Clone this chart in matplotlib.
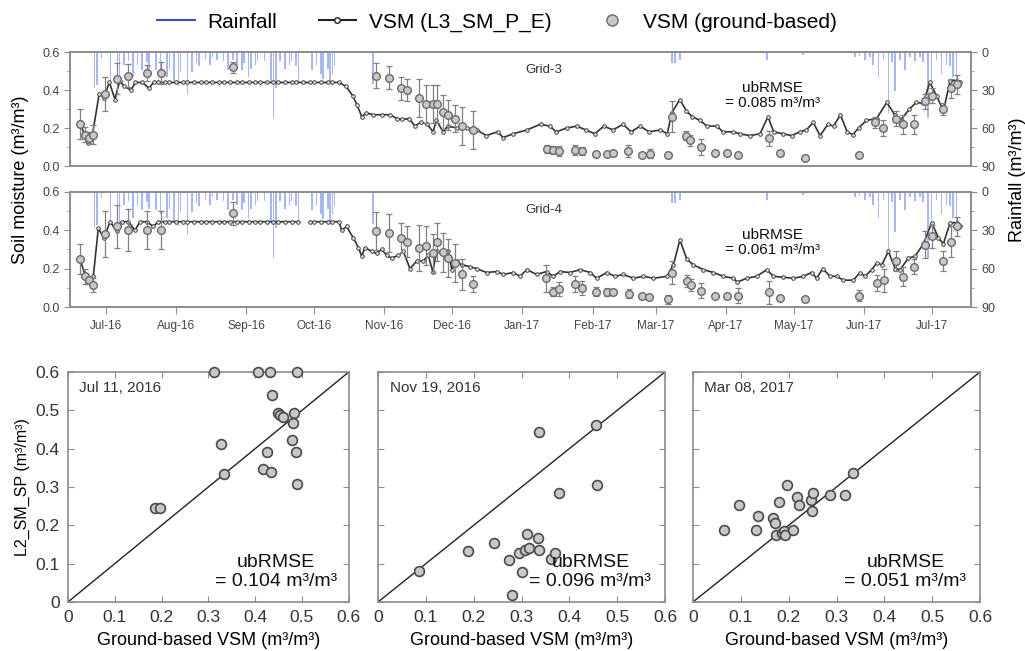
import matplotlib
matplotlib.use("Agg")
import matplotlib.pyplot as plt
import matplotlib.dates as mdates
from matplotlib.lines import Line2D
import numpy as np
import pandas as pd

plt.rcParams['font.family'] = ['Liberation Sans', 'DejaVu Sans']

# ---- time series data (day offsets from 2016-07-01) ----
base = pd.Timestamp("2016-07-01")

# VSM (L3_SM_P_E), Grid-3: (day, value)
g3_line = [(-11.5, 0.23), (-9.5, 0.165), (-8, 0.12), (-6, 0.165), (-3, 0.38), (-1, 0.36),
           (1.5, 0.44), (4, 0.35), (6, 0.45), (8, 0.42), (11, 0.40), (13, 0.44), (16, 0.44),
           (19, 0.41), (21, 0.44), (23, 0.44), (26, 0.44), (28, 0.44), (31, 0.44), (34, 0.44),
           (36, 0.44), (39, 0.44), (42, 0.44), (44, 0.44), (47, 0.44), (50, 0.44), (52, 0.44),
           (55, 0.44), (58, 0.44), (60, 0.44), (63, 0.44), (66, 0.44), (68, 0.44), (71, 0.44),
           (74, 0.44), (76, 0.44), (79, 0.44), (82, 0.44), (84, 0.44), (87, 0.44), (90, 0.44),
           (92, 0.44), (95, 0.44), (98, 0.44), (100, 0.44), (103, 0.44),
           (106, 0.42), (109, 0.37), (111, 0.32), (113, 0.26), (115, 0.28), (118, 0.27),
           (122, 0.27), (125.5, 0.27), (128.5, 0.25), (131, 0.245), (134, 0.25), (136.5, 0.21),
           (139, 0.23), (142, 0.22), (144.5, 0.18), (146, 0.24), (149, 0.18), (151, 0.21),
           (155, 0.20), (159.5, 0.20), (164, 0.19), (168, 0.16), (173, 0.18), (175.5, 0.15),
           (180, 0.17), (186, 0.19), (192, 0.22), (196, 0.21), (199, 0.18), (203.5, 0.20),
           (208, 0.21), (212, 0.19), (216, 0.17), (220, 0.21), (224, 0.19), (228.5, 0.22),
           (232, 0.18), (236, 0.21), (240, 0.18), (245, 0.19), (248, 0.17), (250, 0.28),
           (253.5, 0.35), (256.5, 0.29), (259, 0.26), (262.5, 0.24), (265.5, 0.21), (270, 0.21),
           (272.5, 0.18), (277, 0.18), (280, 0.17), (284.5, 0.16), (289, 0.17), (292.5, 0.26),
           (295, 0.18), (299, 0.17), (303, 0.16), (306.5, 0.18), (309.5, 0.19), (312.5, 0.23),
           (315.5, 0.16), (319, 0.22), (321.5, 0.21), (324.5, 0.27), (327.5, 0.18), (330, 0.165),
           (332.5, 0.20), (336, 0.24), (340.5, 0.25), (345, 0.335), (348.5, 0.27), (351, 0.24),
           (355, 0.30), (358, 0.335), (361, 0.33), (364, 0.44), (367, 0.37), (370, 0.29),
           (373, 0.45), (376, 0.45), (377.5, 0.44)]

# VSM (L3_SM_P_E), Grid-4 (nan = missing retrieval)
g4_line = [(-11.5, 0.255), (-9.3, 0.165), (-7.8, 0.135), (-5.6, 0.16), (-3.4, 0.41), (-0.9, 0.36),
           (1.8, 0.445), (4.7, 0.395), (6.9, 0.445), (9.9, 0.445), (12.8, 0.40), (15, 0.445),
           (18, 0.445), (20.9, 0.42), (23.1, 0.445), (26, 0.445), (28, 0.445), (31, 0.445),
           (34, 0.445), (36, 0.445), (39, 0.445), (42, 0.445), (44, 0.445), (47, 0.445),
           (50, 0.445), (52, 0.445), (55, 0.445), (58, 0.445), (60, 0.445), (63, 0.445),
           (66, 0.445), (68, 0.445), (71, 0.445), (74, 0.445), (76, 0.445), (79, 0.445),
           (82, 0.445), (85, 0.445), (87.5, np.nan), (90, 0.445), (92, 0.445), (95, 0.445),
           (98, 0.445), (100, 0.445), (103, 0.445),
           (104.1, 0.40), (106.3, 0.42), (109.3, 0.36), (111.5, 0.31), (113, 0.265), (114.4, 0.31),
           (117.4, 0.29), (119.6, 0.28), (121.8, 0.30), (124, 0.27), (126.2, 0.255), (129.2, 0.27),
           (131.4, 0.29), (134.3, 0.20), (137.3, 0.24), (140.2, 0.24), (142.4, 0.27), (144.4, 0.185),
           (146.1, 0.29), (149.1, 0.28), (151.3, 0.29), (152.8, 0.195), (155, 0.24), (157.2, 0.22),
           (160.9, 0.21), (163.8, 0.20), (168.2, 0.18), (172.6, 0.185), (175.6, 0.17), (180, 0.18),
           (182.9, 0.16), (185.9, 0.195), (190.3, 0.17), (194.7, 0.185), (197.7, 0.16),
           (200.6, 0.185), (205, 0.18), (209.5, 0.195), (213.9, 0.18), (216.8, 0.15), (221.3, 0.18),
           (224.9, 0.16), (228.6, 0.17), (233, 0.15), (237.4, 0.16), (241.9, 0.15), (247.8, 0.16),
           (250.7, 0.22), (253.6, 0.35), (256.6, 0.25), (259.5, 0.22), (263.9, 0.195), (268.4, 0.18),
           (272.8, 0.16), (277.2, 0.15), (279, 0.13), (283.1, 0.15), (287.5, 0.16), (292, 0.195),
           (294.9, 0.16), (299.3, 0.155), (303.7, 0.15), (308.1, 0.16), (311.8, 0.18), (314, 0.15),
           (316.7, 0.20), (319.9, 0.16), (322.9, 0.16), (325.8, 0.14), (330.2, 0.14), (333.2, 0.18),
           (335.4, 0.16), (338.3, 0.195), (340.6, 0.23), (342.8, 0.22), (345.7, 0.29), (348.7, 0.20),
           (350.9, 0.195), (354.5, 0.255), (357.5, 0.265), (361.2, 0.33), (364.9, 0.44),
           (367.8, 0.36), (370, 0.33), (373, 0.44), (375.9, 0.44), (377.4, 0.42)]

# VSM (ground-based): (day, mean, std)
g3_ground = [(-11.5, 0.22, 0.08), (-9.3, 0.165, 0.04), (-7.4, 0.15, 0.03), (-5.6, 0.165, 0.05),
             (-0.4, 0.38, 0.09), (5, 0.46, 0.08), (9.9, 0.475, 0.06), (18, 0.49, 0.04),
             (24.2, 0.49, 0.06), (56.3, 0.52, 0.03), (119.3, 0.475, 0.065), (125.2, 0.465, 0.06),
             (130.2, 0.41, 0.06), (133.2, 0.40, 0.06), (138.4, 0.36, 0.10), (141.4, 0.325, 0.10),
             (144.4, 0.325, 0.10), (146.4, 0.325, 0.10), (149.1, 0.285, 0.09), (151.3, 0.27, 0.08),
             (154.2, 0.25, 0.07), (157.2, 0.21, 0.10), (162.3, 0.19, 0.10), (194.7, 0.09, 0.02),
             (197.7, 0.085, 0.02), (200.3, 0.08, 0.025), (207.2, 0.085, 0.025), (210.2, 0.08, 0.02),
             (216.5, 0.065, 0.01), (221.2, 0.065, 0.01), (224.2, 0.07, 0.01), (230.8, 0.08, 0.03),
             (236.7, 0.06, 0.01), (240.4, 0.065, 0.025), (248.5, 0.057, 0.01), (250.2, 0.26, 0.08),
             (256.1, 0.16, 0.025), (258, 0.135, 0.03), (262.9, 0.10, 0.04), (269.1, 0.07, 0.01),
             (274.3, 0.07, 0.01), (279.1, 0.06, 0.01), (293, 0.145, 0.04), (297.8, 0.066, 0.015),
             (308.9, 0.04, 0.01), (332.9, 0.06, 0.01), (339.8, 0.23, 0.03), (343.5, 0.20, 0.04),
             (349.1, 0.25, 0.04), (352.3, 0.22, 0.05), (357, 0.22, 0.05), (361.9, 0.34, 0.04),
             (364.9, 0.37, 0.04), (370, 0.30, 0.03), (373.2, 0.41, 0.05), (375.9, 0.43, 0.05)]

g4_ground = [(-11.5, 0.25, 0.08), (-9.3, 0.16, 0.04), (-7.4, 0.14, 0.02), (-5.6, 0.115, 0.035),
             (-0.4, 0.38, 0.12), (5, 0.42, 0.11), (9.9, 0.40, 0.11), (18, 0.40, 0.10),
             (24.2, 0.40, 0.10), (56.3, 0.49, 0.06), (119.3, 0.395, 0.10), (125.2, 0.385, 0.10),
             (130.2, 0.36, 0.08), (133.2, 0.34, 0.08), (138.4, 0.31, 0.12), (141.4, 0.32, 0.10),
             (144.4, 0.28, 0.10), (146.4, 0.34, 0.10), (149.1, 0.285, 0.10), (151.3, 0.255, 0.10),
             (154.2, 0.23, 0.10), (157.2, 0.17, 0.08), (162.3, 0.12, 0.04), (194.2, 0.15, 0.07),
             (197.5, 0.08, 0.025), (200.3, 0.095, 0.035), (207.2, 0.12, 0.04), (210.2, 0.10, 0.035),
             (216.5, 0.08, 0.025), (221.2, 0.08, 0.02), (224.2, 0.077, 0.015), (231.2, 0.07, 0.025),
             (236.9, 0.055, 0.01), (239.9, 0.05, 0.01), (248.5, 0.04, 0.025), (250.2, 0.18, 0.06),
             (256.6, 0.135, 0.03), (258.3, 0.115, 0.03), (262.9, 0.085, 0.04), (269.1, 0.06, 0.01),
             (274.3, 0.06, 0.01), (279.1, 0.06, 0.04), (293, 0.077, 0.06), (297.8, 0.047, 0.01),
             (308.9, 0.04, 0.01), (332.9, 0.06, 0.03), (340.6, 0.125, 0.04), (343.8, 0.14, 0.06),
             (349.1, 0.24, 0.05), (352.3, 0.157, 0.05), (357, 0.21, 0.04), (361.9, 0.325, 0.07),
             (364.9, 0.37, 0.06), (370, 0.24, 0.05), (373.2, 0.34, 0.08), (375.9, 0.42, 0.05)]

# Rainfall: (day, amount)
rain = [(-5, 28), (-4, 26), (-2, 5), (2, 24), (5, 27), (6, 27), (8, 10), (10, 7), (12, 20),
        (14, 10), (16, 14), (18, 8), (19, 13), (22, 14), (24, 17), (27, 20), (28, 13), (30, 23),
        (32, 27), (33, 16), (36, 34), (38, 16), (40, 9), (41, 11), (44, 6), (46, 10), (47, 4),
        (49, 6), (52, 7), (54, 14), (56, 6), (58, 10), (60, 14), (61, 9), (63, 20), (64, 13),
        (66, 10), (67, 7), (70, 7), (73, 23), (74, 52), (75, 28), (77, 7), (79, 13), (81, 10),
        (82, 7), (84, 11), (85, 24), (91, 14), (93, 10), (95, 17), (96, 21), (98, 13), (99, 24),
        (100, 17), (101, 11), (118, 25), (250, 8.5), (251.4, 8.5), (253.6, 6), (292, 6), (308, 2),
        (331, 4), (333, 3), (335.4, 6), (337.6, 4), (339, 10), (341.3, 20), (343.5, 6),
        (345.7, 48), (347.2, 8), (348.7, 31), (350.9, 6), (353, 14), (355.3, 4), (357.5, 7),
        (359.7, 4), (361.1, 8), (363.3, 52), (364.8, 23), (367, 6), (369.2, 17), (371.4, 10),
        (372.9, 11), (374.3, 20), (375.8, 25)]

grid_names = ["Grid-3", "Grid-4"]
grid_rmse = ["0.085", "0.061"]

# ---- scatter data: (ground-based, L2_SM_SP) ----
sc_titles = ["Jul 11, 2016", "Nov 19, 2016", "Mar 08, 2017"]
sc_rmse = ["0.104", "0.096", "0.051"]
sc_jul = [(0.313, 0.6), (0.407, 0.6), (0.432, 0.6), (0.49, 0.6), (0.435, 0.54), (0.449, 0.494),
          (0.453, 0.488), (0.459, 0.483), (0.483, 0.492), (0.48, 0.467), (0.478, 0.423),
          (0.488, 0.392), (0.425, 0.392), (0.49, 0.307), (0.327, 0.411), (0.333, 0.334),
          (0.416, 0.346), (0.433, 0.339), (0.185, 0.245), (0.197, 0.245)]
sc_nov = [(0.085, 0.080), (0.188, 0.134), (0.243, 0.155), (0.273, 0.109), (0.281, 0.019),
          (0.294, 0.129), (0.302, 0.078), (0.308, 0.135), (0.312, 0.178), (0.315, 0.141),
          (0.335, 0.167), (0.337, 0.136), (0.336, 0.444), (0.361, 0.112), (0.370, 0.127),
          (0.378, 0.283), (0.456, 0.462), (0.457, 0.306)]
sc_mar = [(0.065, 0.189), (0.096, 0.252), (0.132, 0.188), (0.135, 0.224), (0.167, 0.220),
          (0.171, 0.205), (0.173, 0.174), (0.180, 0.262), (0.187, 0.181), (0.190, 0.185),
          (0.193, 0.174), (0.196, 0.305), (0.209, 0.189), (0.217, 0.274), (0.222, 0.252),
          (0.246, 0.266), (0.248, 0.238), (0.250, 0.285), (0.286, 0.279), (0.318, 0.278),
          (0.334, 0.336)]


def to_dates(days):
    return base + pd.to_timedelta(np.asarray(days, dtype=float), unit="D")


spine_c = "#8c8c8c"
text_c = "#444444"

fig = plt.figure(figsize=(10.25, 6.51), dpi=100)

top_axes = [fig.add_axes([0.0683, 0.745, 0.879, 0.175]),
            fig.add_axes([0.0683, 0.5284, 0.879, 0.1767])]

rain_d = to_dates([r[0] for r in rain])
rain_v = [r[1] for r in rain]

for i, (ax, line, ground) in enumerate(zip(top_axes, [g3_line, g4_line], [g3_ground, g4_ground])):
    ax2 = ax.twinx()
    ax2.bar(rain_d, rain_v, width=0.7, color="#8299ea", alpha=0.7, align="center")
    ax2.set_ylim(90, 0)
    ax2.set_yticks([0, 30, 60, 90])
    ax2.set_yticks([15, 45, 75], minor=True)
    ax2.tick_params(axis="y", which="major", labelsize=9, colors=spine_c, labelcolor=text_c, length=4)
    ax2.tick_params(axis="y", which="minor", colors=spine_c, length=2.5)

    ax.set_zorder(ax2.get_zorder() + 1)
    ax.patch.set_visible(False)

    ld = to_dates([p[0] for p in line])
    lv = [p[1] for p in line]
    ax.plot(ld, lv, color="#333333", lw=1.2, marker="o", ms=2.6, mfc="#dddddd",
            mec="#333333", mew=0.6, zorder=3)

    gd = to_dates([p[0] for p in ground])
    gv = [p[1] for p in ground]
    ge = [p[2] for p in ground]
    ax.errorbar(gd, gv, yerr=ge, fmt="none", ecolor="#808080", elinewidth=0.9,
                capsize=2, capthick=0.9, zorder=4)
    ax.plot(gd, gv, "o", ms=5.5, mfc="#c8c8c8", mec="#6a6a6a", mew=1.0, zorder=5)

    ax.set_ylim(0, 0.6)
    ax.set_yticks([0.0, 0.2, 0.4, 0.6])
    ax.set_yticks([0.1, 0.3, 0.5], minor=True)
    ax.set_yticklabels(["0.0", "0.2", "0.4", "0.6"])
    ax.tick_params(axis="y", which="major", labelsize=9, colors=spine_c, labelcolor=text_c, length=4)
    ax.tick_params(axis="y", which="minor", colors=spine_c, length=2.5)
    ax.set_xlim(base + pd.Timedelta(days=-15.9), base + pd.Timedelta(days=382.2))
    ax.xaxis.set_major_locator(mdates.MonthLocator())
    ax.xaxis.set_major_formatter(mdates.DateFormatter("%b-%y"))
    if i == 0:
        ax.tick_params(axis="x", which="both", bottom=False, labelbottom=False)
    else:
        ax.tick_params(axis="x", labelsize=8.5, colors=spine_c, labelcolor=text_c, length=5, pad=4)
    for a in (ax, ax2):
        for s in a.spines.values():
            s.set_color(spine_c)
            s.set_linewidth(1.2)

    ax.text(0.505, 0.84, grid_names[i], transform=ax.transAxes, fontsize=9.5, color="#333333",
            ha="left", va="center")
    ax.text(0.78, 0.62 if i == 0 else 0.56, "ubRMSE\n= %s m³/m³" % grid_rmse[i],
            transform=ax.transAxes, fontsize=11, color="#111111", ha="center", va="center",
            linespacing=1.15)

fig.text(0.02, 0.7235, "Soil moisture (m³/m³)", rotation=90, ha="center", va="center", fontsize=13)
fig.text(0.993, 0.7235, "Rainfall (m³/m³)", rotation=90, ha="center", va="center", fontsize=13)

handles = [Line2D([], [], color="#3a4fb8", lw=1.5),
           Line2D([], [], color="#222222", lw=1.5, marker="o", ms=4, mfc="white", mec="#222222"),
           Line2D([], [], ls="none", marker="o", ms=8, mfc="#c8c8c8", mec="#6a6a6a", mew=1.0)]
fig.legend(handles, ["Rainfall", "VSM (L3_SM_P_E)", "VSM (ground-based)"], loc="center",
           bbox_to_anchor=(0.485, 0.966), ncol=3, frameon=False, fontsize=15,
           columnspacing=2.0, handlelength=1.8, handletextpad=0.6)

# ---- scatter panels ----
sc_pos = [[0.0663, 0.0753, 0.274, 0.3533],
          [0.3688, 0.0753, 0.28, 0.3533],
          [0.6761, 0.0753, 0.28, 0.3533]]
ticks = [0, 0.1, 0.2, 0.3, 0.4, 0.5, 0.6]
tick_lbl = ["0", "0.1", "0.2", "0.3", "0.4", "0.5", "0.6"]

for j, (pos, pts) in enumerate(zip(sc_pos, [sc_jul, sc_nov, sc_mar])):
    ax = fig.add_axes(pos)
    ax.plot([0, 0.6], [0, 0.6], color="#222222", lw=1.0, zorder=1)
    ax.scatter([p[0] for p in pts], [p[1] for p in pts], s=50, facecolor="#c8c8c8",
               edgecolor="#4a4a4a", linewidth=1.2, zorder=3, clip_on=False)
    ax.set_xlim(0, 0.6)
    ax.set_ylim(0, 0.6)
    ax.set_xticks(ticks)
    ax.set_xticklabels(tick_lbl)
    ax.set_yticks(ticks)
    if j == 0:
        ax.set_yticklabels(tick_lbl)
        ax.set_ylabel("L2_SM_SP (m³/m³)", fontsize=11.5, labelpad=4)
    else:
        ax.set_yticklabels([])
    ax.tick_params(direction="in", top=True, right=True, length=4, colors=spine_c,
                   labelcolor="#333333", labelsize=12.5, pad=6)
    for s in ax.spines.values():
        s.set_color(spine_c)
        s.set_linewidth(1.2)
    ax.set_xlabel("Ground-based VSM (m³/m³)", fontsize=13, labelpad=5)
    ax.text(0.04, 0.93, sc_titles[j], transform=ax.transAxes, fontsize=11, color="#333333",
            ha="left", va="center")
    ax.text(0.74, 0.13, "ubRMSE\n= %s m³/m³" % sc_rmse[j], transform=ax.transAxes,
            fontsize=14, color="#111111", ha="center", va="center", linespacing=1.1)

fig.savefig("out.png", dpi=100)
